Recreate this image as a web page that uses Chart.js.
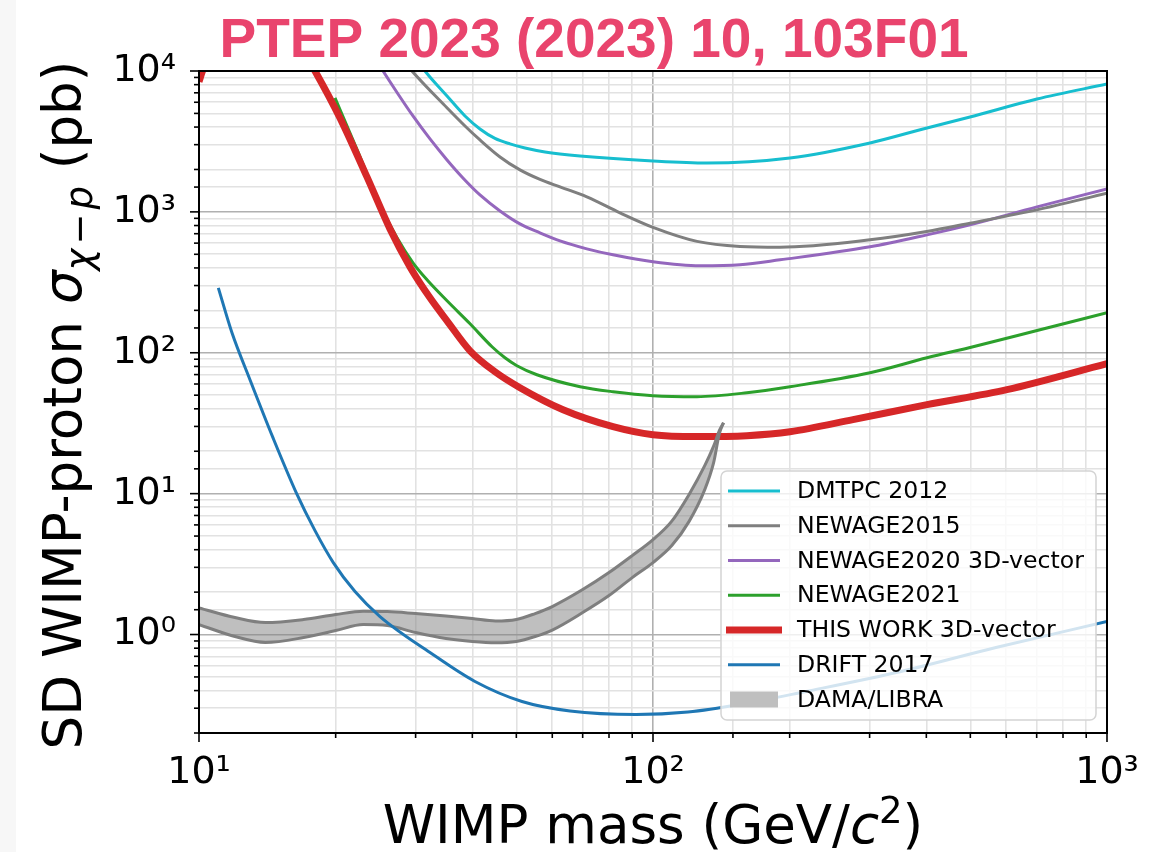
<!DOCTYPE html>
<html>
<head>
<meta charset="utf-8">
<script src="https://cdn.jsdelivr.net/npm/chart.js@4.4.0/dist/chart.umd.min.js"></script>
<style>
html,body{margin:0;padding:0;background:#fff;}
canvas{display:block;}
</style>
</head>
<body>
<canvas id="c" width="1170" height="852" style="width:1170px;height:852px"></canvas>
<script>
// ---------------- data ----------------
const seriesNames = ['DMTPC 2012','NEWAGE2015','NEWAGE2020 3D-vector','NEWAGE2021','THIS WORK 3D-vector','DRIFT 2017','DAMA/LIBRA'];

const dmtpcMass  = [29.16, 31.46, 35.18, 38.54, 41.58, 44.87, 48.42, 52.25, 57.82, 69.1, 100, 131.5, 200.3, 300.6, 401.3, 499.2, 701, 1000];
const dmtpcSigma = [14090, 10000, 6647, 4797, 3879, 3321, 3036, 2844, 2665, 2496, 2300, 2226, 2415, 3086, 3942, 4718, 6330, 8087];

const newage2015Mass  = [27.02, 29.41, 35.12, 38.54, 41.58, 46.03, 50.93, 56.37, 62.4, 71.5, 84.6, 100, 125, 155.5, 190.4, 300.6, 400.7, 499.2, 700, 1000];
const newage2015Sigma = [14090, 10049, 5510, 4073, 3240, 2455, 1986, 1700, 1504, 1278, 983.8, 776.6, 617.8, 569, 561.7, 633, 725, 831, 1033, 1357];

const newage2020Mass  = [23.8, 25.43, 27.44, 29.6, 32.27, 35.18, 38.14, 41.58, 46.03, 50.93, 56.37, 62.4, 71.5, 81.64, 100, 126.9, 155.5, 190.4, 300.6, 401.3, 499.2, 701, 1000];
const newage2020Sigma = [14090, 10000, 6870, 4797, 3294, 2338, 1742, 1320, 1016, 822, 710, 622.7, 546.6, 495.5, 441.9, 414, 420.9, 456.5, 564.7, 687, 808.8, 1085, 1456];

const newage2021Mass  = [19.93, 22.4, 25.04, 27.3, 29.6, 31.78, 35.18, 39.54, 44.2, 47.2, 50.15, 55.5, 69.1, 81.64, 100, 125, 161, 200.3, 300.6, 401.3, 507, 712, 1000];
const newage2021Sigma = [6436, 2665, 1121, 654, 434.6, 329.5, 233.8, 160.6, 110.3, 92.1, 80.9, 69.8, 57.4, 52.9, 49.6, 48.8, 52.0, 57.4, 72.1, 92.1, 110.3, 145.6, 192.2];

const thisWorkMass  = [10, 10.2, 11, 16, 18.01, 20.44, 23.44, 26.34, 29.16, 32.27, 35.18, 39.54, 44.87, 50.93, 63.38, 81.64, 100, 125, 161, 200.3, 275.8, 401.3, 602, 1000];
const thisWorkSigma = [8400, 10160, 16000, 19000, 10000, 4642, 1771, 757.5, 407, 245.5, 168.6, 103.3, 73.3, 56.5, 39.4, 29.9, 26.2, 25.4, 25.8, 27.5, 33.5, 42.8, 54.7, 83.6];

const drift2017Mass  = [11.03, 11.82, 12.95, 14.55, 16.41, 18.01, 19.76, 22.06, 25.04, 32.27, 40.54, 51.45, 65.65, 91.75, 119.4, 155.5, 217.3, 351.8, 569.4, 1000];
const drift2017Sigma = [289, 138.6, 64.35, 24.96, 10.0, 5.46, 3.24, 2.018, 1.342, 0.7453, 0.4642, 0.3347, 0.2867, 0.2708, 0.2821, 0.3189, 0.3942, 0.5464, 0.8087, 1.2366];

const damaMass  = [10, 12, 14, 17, 20, 23, 26, 30, 35, 40, 45, 50, 55, 60, 70, 80, 90, 100, 110, 120, 130, 136, 140, 143];
const damaUpper = [1.547, 1.32, 1.216, 1.278, 1.386, 1.463, 1.456, 1.409, 1.353, 1.299, 1.247, 1.278, 1.409, 1.58, 2.085, 2.753, 3.634, 4.717, 6.383, 9.838, 15.8, 21.73, 27.98, 31.88];
const damaLower = [1.177, 0.968, 0.878, 0.952, 1.067, 1.177, 1.158, 1.033, 0.937, 0.892, 0.873, 0.892, 0.968, 1.076, 1.432, 1.89, 2.536, 3.24, 4.278, 6.33, 10.68, 16.59, 26.64, 31.88];

const xTickExponents = [1, 2, 3];
const xTickLabels = ['10¹', '10²', '10³'];
const yTickExponents = [0, 1, 2, 3, 4];
const yTickLabels = ['10⁰', '10¹', '10²', '10³', '10⁴'];

const chartTitle = 'PTEP 2023 (2023) 10, 103F01';
const xTitleParts = [ {t: 'WIMP mass (GeV/'}, {t: 'c', it: true}, {t: '2', sup: true}, {t: ')'} ];
const yTitleParts = [ {t: 'SD WIMP-proton '}, {t: 'σ', it: true}, {t: 'χ', it: true, sub: true}, {t: '−', sub: true, pad: 4}, {t: 'p', it: true, sub: true}, {t: ' (pb)'} ];

// ---------------- styles ----------------
const C = {cyan:'#17becf', gray:'#7f7f7f', purple:'#9467bd', green:'#2ca02c', red:'#d62728', blue:'#1f77b4', band:'rgba(127,127,127,0.5)', bandLegend:'#bfbfbf'};
const FAM = '"DejaVu Sans", sans-serif';

function pts(xs, ys){ return xs.map((x, i) => ({x: x, y: ys[i]})); }

function lineDs(label, xs, ys, color, width, order, extra){
  return Object.assign({
    label: label, data: pts(xs, ys), borderColor: color, backgroundColor: color,
    borderWidth: width, pointRadius: 0, fill: false, order: order, clip: 0,
    cubicInterpolationMode: 'monotone', borderCapStyle: 'butt', borderJoinStyle: 'round'
  }, extra || {});
}

const datasets = [
  lineDs(seriesNames[0], dmtpcMass, dmtpcSigma, C.cyan, 3, 1),
  lineDs(seriesNames[1], newage2015Mass, newage2015Sigma, C.gray, 3, 2),
  lineDs(seriesNames[2], newage2020Mass, newage2020Sigma, C.purple, 3, 3),
  lineDs(seriesNames[5], drift2017Mass, drift2017Sigma, C.blue, 3, 4),
  lineDs(seriesNames[6], damaMass, damaUpper, C.gray, 3, 5, {fill: '+1', backgroundColor: C.band}),
  lineDs(seriesNames[6] + ' (lower)', damaMass, damaLower, C.gray, 3, 6),
  lineDs(seriesNames[4], thisWorkMass, thisWorkSigma, C.red, 7, 7),
  lineDs(seriesNames[3], newage2021Mass, newage2021Sigma, C.green, 3, 8)
];

const legendItems = [
  {name: seriesNames[0], color: C.cyan, w: 3},
  {name: seriesNames[1], color: C.gray, w: 3},
  {name: seriesNames[2], color: C.purple, w: 3},
  {name: seriesNames[3], color: C.green, w: 3},
  {name: seriesNames[4], color: C.red, w: 7},
  {name: seriesNames[5], color: C.blue, w: 3},
  {name: seriesNames[6], color: C.bandLegend, patch: true}
];

function decadeLabel(value, exps, labels){
  const l = Math.log10(value);
  const r = Math.round(l);
  if (Math.abs(l - r) < 1e-6) { const i = exps.indexOf(r); return i >= 0 ? labels[i] : ''; }
  return '';
}
function isMajor(value){ const l = Math.log10(value); return Math.abs(l - Math.round(l)) < 1e-6; }

// rich text (sub/superscript, italic) drawn at baseline, centred on x=0
function fontFor(p, size){
  const s = (p.sub || p.sup) ? Math.round(size * 0.7) : size;
  return (p.it ? 'italic ' : '') + s + 'px ' + FAM;
}
function richWidth(ctx, parts, size){
  let w = 0;
  parts.forEach(p => { ctx.font = fontFor(p, size); w += ctx.measureText(p.t).width + 2 * (p.pad || 0); });
  return w;
}
function drawRich(ctx, parts, size){
  const total = richWidth(ctx, parts, size);
  let x = -total / 2;
  parts.forEach(p => {
    ctx.font = fontFor(p, size);
    const dy = p.sub ? size * 0.2 : (p.sup ? -size * 0.38 : 0);
    x += (p.pad || 0);
    ctx.fillText(p.t, x, dy);
    x += ctx.measureText(p.t).width + (p.pad || 0);
  });
}

// ---------------- plugins ----------------
const bgPlugin = {
  id: 'bg',
  beforeDraw(chart){
    const ctx = chart.ctx; ctx.save();
    ctx.fillStyle = '#ffffff'; ctx.fillRect(0, 0, chart.width, chart.height);
    ctx.fillStyle = '#f7f7f7'; ctx.fillRect(0, 0, 16, chart.height);
    ctx.restore();
  }
};

const framePlugin = {
  id: 'frame',
  afterDraw(chart){
    const ctx = chart.ctx, a = chart.chartArea;
    ctx.save();
    ctx.strokeStyle = '#000'; ctx.lineWidth = 1.6;
    const xs = chart.scales.x, ys = chart.scales.y;
    xs.ticks.forEach(t => {
      const p = xs.getPixelForValue(t.value);
      const len = isMajor(t.value) ? 9 : 5;
      ctx.beginPath(); ctx.moveTo(p, a.bottom); ctx.lineTo(p, a.bottom + len); ctx.stroke();
    });
    ys.ticks.forEach(t => {
      const p = ys.getPixelForValue(t.value);
      const len = isMajor(t.value) ? 9 : 5;
      ctx.beginPath(); ctx.moveTo(a.left, p); ctx.lineTo(a.left - len, p); ctx.stroke();
    });
    ctx.lineWidth = 2;
    ctx.strokeRect(a.left, a.top, a.right - a.left, a.bottom - a.top);
    ctx.restore();
  }
};

const legendPlugin = {
  id: 'customLegend',
  afterDraw(chart){
    const ctx = chart.ctx; ctx.save();
    const bx = 721, by = 471, bw = 375, bh = 249;
    ctx.beginPath();
    ctx.roundRect(bx, by, bw, bh, 6);
    ctx.fillStyle = 'rgba(255,255,255,0.8)'; ctx.fill();
    ctx.strokeStyle = '#d4d4d4'; ctx.lineWidth = 1.5; ctx.stroke();
    ctx.font = '23.6px ' + FAM; ctx.textBaseline = 'middle'; ctx.textAlign = 'left';
    legendItems.forEach((it, i) => {
      const y = 491 + i * 34.75;
      if (it.patch) {
        ctx.fillStyle = it.color; ctx.fillRect(730, y - 8, 48, 16);
      } else {
        ctx.strokeStyle = it.color; ctx.lineWidth = it.w; ctx.lineCap = 'butt';
        ctx.beginPath(); ctx.moveTo(it.w > 4 ? 726 : 728, y); ctx.lineTo(it.w > 4 ? 782 : 780, y); ctx.stroke();
      }
      ctx.fillStyle = '#000';
      ctx.fillText(it.name, 797, y + 1);
    });
    ctx.restore();
  }
};

const textPlugin = {
  id: 'texts',
  afterDraw(chart){
    const ctx = chart.ctx, a = chart.chartArea;
    ctx.save();
    ctx.fillStyle = '#000'; ctx.textBaseline = 'alphabetic'; ctx.textAlign = 'left';
    ctx.save();
    ctx.translate((a.left + a.right) / 2, 843);
    drawRich(ctx, xTitleParts, 53);
    ctx.restore();
    ctx.save();
    ctx.translate(81, (a.top + a.bottom) / 2 + 3);
    ctx.rotate(-Math.PI / 2);
    drawRich(ctx, yTitleParts, 53);
    ctx.restore();
    ctx.font = 'bold 55px "Liberation Sans", Arial, sans-serif';
    ctx.fillStyle = '#e9446d'; ctx.textAlign = 'center';
    ctx.fillText(chartTitle, 594, 57);
    ctx.restore();
  }
};

// ---------------- chart ----------------
new Chart(document.getElementById('c'), {
  type: 'line',
  data: { datasets: datasets },
  plugins: [bgPlugin, framePlugin, legendPlugin, textPlugin],
  options: {
    responsive: false, animation: false, devicePixelRatio: 1, events: [],
    layout: { padding: { left: 0, top: 71, right: 63, bottom: 0 } },
    plugins: { legend: { display: false }, tooltip: { enabled: false }, title: { display: false } },
    scales: {
      x: {
        type: 'logarithmic', min: 10, max: 1000,
        afterFit: s => { s.height = 119; },
        border: { display: false },
        grid: {
          color: c => (c.tick && isMajor(c.tick.value)) ? '#b0b0b0' : '#e2e2e2',
          lineWidth: 1.6, tickLength: 9, tickColor: 'rgba(0,0,0,0)'
        },
        ticks: {
          autoSkip: false, maxRotation: 0, minRotation: 0, padding: 8, color: '#000',
          font: { family: FAM, size: 38 },
          callback: v => decadeLabel(v, xTickExponents, xTickLabels)
        },
        title: { display: false }
      },
      y: {
        type: 'logarithmic', min: 0.2, max: 10000,
        afterFit: s => { s.width = 199; },
        border: { display: false },
        grid: {
          color: c => (c.tick && isMajor(c.tick.value)) ? '#b0b0b0' : '#e2e2e2',
          lineWidth: 1.6, tickLength: 9, tickColor: 'rgba(0,0,0,0)'
        },
        ticks: {
          autoSkip: false, padding: 14, color: '#000',
          font: { family: FAM, size: 38 },
          callback: v => decadeLabel(v, yTickExponents, yTickLabels)
        },
        title: { display: false }
      }
    }
  }
});
</script>
</body>
</html>
